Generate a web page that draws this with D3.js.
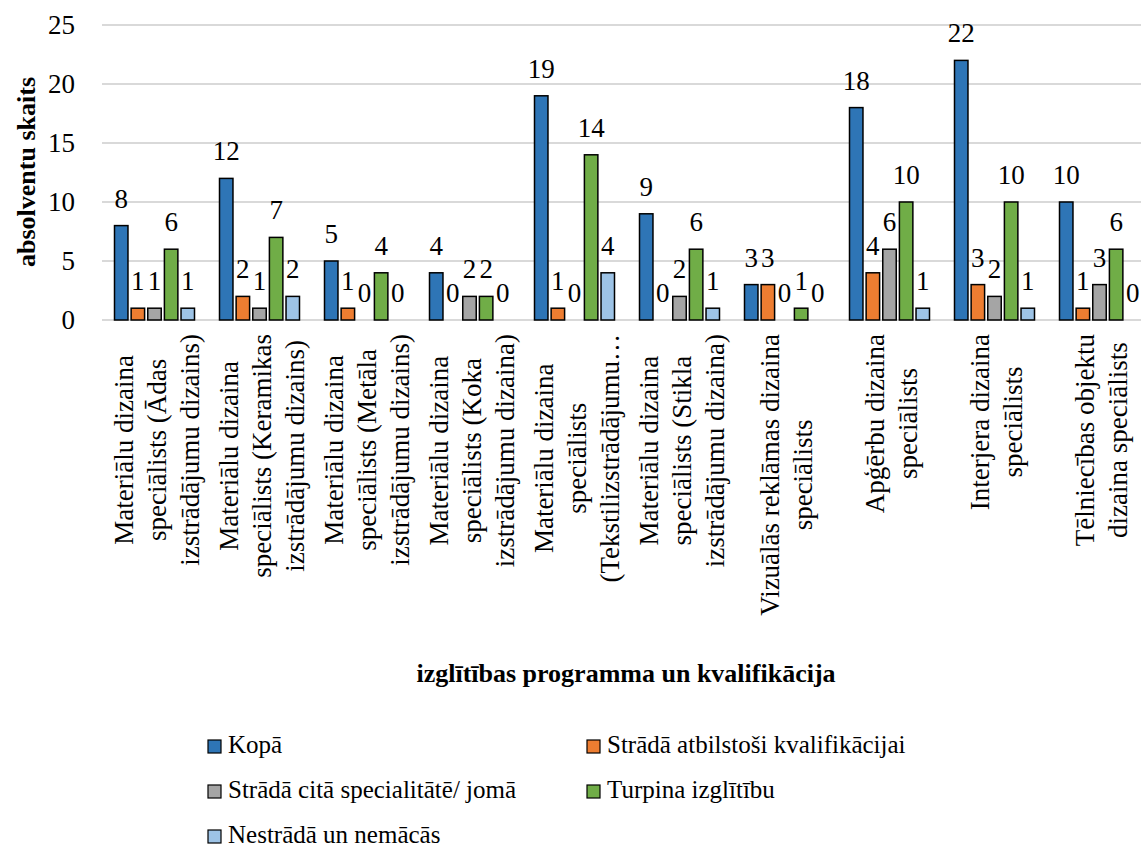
<!DOCTYPE html>
<html lang="lv">
<head>
<meta charset="utf-8">
<script src="https://cdn.jsdelivr.net/npm/d3@7/dist/d3.min.js"></script>
<style>
    body { margin: 0; background: #fff; }
    svg text { font-family: "Liberation Serif", "Times New Roman", serif; }
</style>
</head>
<body>
<script>
    // categories, wrapped the way they show on the axis
    const categories = [
        ["Materiālu dizaina", "speciālists (Ādas", "izstrādājumu dizains)"],
        ["Materiālu dizaina", "speciālists (Keramikas", "izstrādājumu dizains)"],
        ["Materiālu dizaina", "speciālists (Metāla", "izstrādājumu dizains)"],
        ["Materiālu dizaina", "speciālists (Koka", "izstrādājumu dizaina)"],
        ["Materiālu dizaina", "speciālists", "(Tekstilizstrādājumu…"],
        ["Materiālu dizaina", "speciālists (Stikla", "izstrādājumu dizaina)"],
        ["Vizuālās reklāmas dizaina", "speciālists"],
        ["Apģērbu dizaina", "speciālists"],
        ["Interjera dizaina", "speciālists"],
        ["Tēlniecības objektu", "dizaina speciālists"]
    ];
    const seriesNames = ["Kopā", "Strādā atbilstoši kvalifikācijai", "Strādā citā specialitātē/ jomā",
        "Turpina izglītību", "Nestrādā un nemācās"];
    const kopa = [8, 12, 5, 4, 19, 9, 3, 18, 22, 10];
    const atbilstosi = [1, 2, 1, 0, 1, 0, 3, 4, 3, 1];
    const cita = [1, 1, 0, 2, 0, 2, 0, 6, 2, 3];
    const turpina = [6, 7, 4, 2, 14, 6, 1, 10, 10, 6];
    const nestrada = [1, 2, 0, 0, 4, 1, 0, 1, 1, 0];
    const yTicks = [0, 5, 10, 15, 20, 25];
    const colors = ["#2e75b6", "#ed7d31", "#a5a5a5", "#70ad47", "#9dc3e6"];

    const seriesValues = [kopa, atbilstosi, cita, turpina, nestrada];
    const W = 1141, H = 852;
    const FONT = "Liberation Serif";
    const svg = d3.select("body").append("svg").attr("width", W).attr("height", H)
        .attr('font-family', FONT);

    const catIdx = d3.range(categories.length);
    const x0 = d3.scaleBand().domain(catIdx).range([102, 1152]);
    const x1 = d3.scaleBand().domain(d3.range(seriesNames.length))
        .range([12.5, x0.bandwidth() - 12.5]).paddingInner(0.19);
    const y = d3.scaleLinear().domain([0, 25]).range([320, 25]);

    // grid
    svg.append('g').selectAll('line').data(yTicks).enter().append('line')
        .attr('x1', 102).attr('x2', W)
        .attr('y1', d => y(d)).attr('y2', d => y(d))
        .attr('stroke', '#d9d9d9').attr('stroke-width', 2);

    // y tick labels
    svg.append('g').selectAll('text').data(yTicks).enter().append('text')
        .attr('x', 75).attr('y', d => y(d)).attr('dy', '0.35em')
        .attr('text-anchor', 'end').attr('font-family', FONT).attr('font-size', 27)
        .text(d => d);

    // bars
    const groups = svg.append('g').selectAll('g').data(catIdx).enter().append('g')
        .attr('transform', d => 'translate(' + x0(d) + ',0)');

    const cells = groups.selectAll('g').data(ci => seriesValues.map((vals, si) => ({si: si, v: vals[ci]})))
        .enter().append('g');

    cells.filter(d => d.v > 0).append('rect')
        .attr('x', d => x1(d.si)).attr('width', x1.bandwidth())
        .attr('y', d => y(d.v)).attr('height', d => y(0) - y(d.v))
        .attr('fill', d => colors[d.si]).attr('stroke', '#000').attr('stroke-width', 1.5);

    cells.append('text')
        .attr('x', d => x1(d.si) + x1.bandwidth() / 2)
        .attr('y', d => y(d.v) - 18)
        .attr('text-anchor', 'middle').attr('font-family', FONT).attr('font-size', 27)
        .text(d => d.v);

    // category labels (rotated, lines centred on each other)
    const catLabels = svg.append('g').selectAll('g').data(catIdx).enter().append('g');
    catLabels.each(function (ci) {
        const lines = categories[ci];
        const g = d3.select(this);
        const cx = x0(ci) + x0.bandwidth() / 2 + 2;
        const texts = g.selectAll('text').data(lines).enter().append('text')
            .attr('text-anchor', 'middle').attr('font-family', FONT).attr('font-size', 27)
            .text(d => d);
        let maxLen = 0;
        texts.each(function () { maxLen = Math.max(maxLen, this.getComputedTextLength()); });
        const cy = 334 + maxLen / 2;
        texts.attr('transform', (d, i) => {
            const bx = cx + (i - (lines.length - 1) / 2) * 33 + 9;
            return 'translate(' + bx + ',' + cy + ') rotate(-90)';
        });
    });

    // axis titles
    svg.append('text')
        .attr('transform', 'translate(35,172) rotate(-90)')
        .attr('text-anchor', 'middle').attr('font-family', FONT).attr('font-size', 26)
        .attr('font-weight', 'bold')
        .text('absolventu skaits');

    svg.append('text')
        .attr('x', 626).attr('y', 682)
        .attr('text-anchor', 'middle').attr('font-family', FONT).attr('font-size', 26)
        .attr('font-weight', 'bold')
        .text('izglītības programma un kvalifikācija');

    // legend
    const legendPos = [[208, 753], [587, 753], [208, 798], [587, 798], [208, 843]];
    const legend = svg.append('g').selectAll('g').data(seriesNames).enter().append('g')
        .attr('transform', (d, i) => 'translate(' + legendPos[i][0] + ',' + legendPos[i][1] + ')');
    legend.append('rect')
        .attr('x', 0).attr('y', -13).attr('width', 13).attr('height', 13)
        .attr('fill', (d, i) => colors[i]).attr('stroke', '#000').attr('stroke-width', 1.2);
    legend.append('text')
        .attr('x', 20).attr('y', 0).attr('font-family', FONT).attr('font-size', 25)
        .text(d => d);
</script>
</body>
</html>
